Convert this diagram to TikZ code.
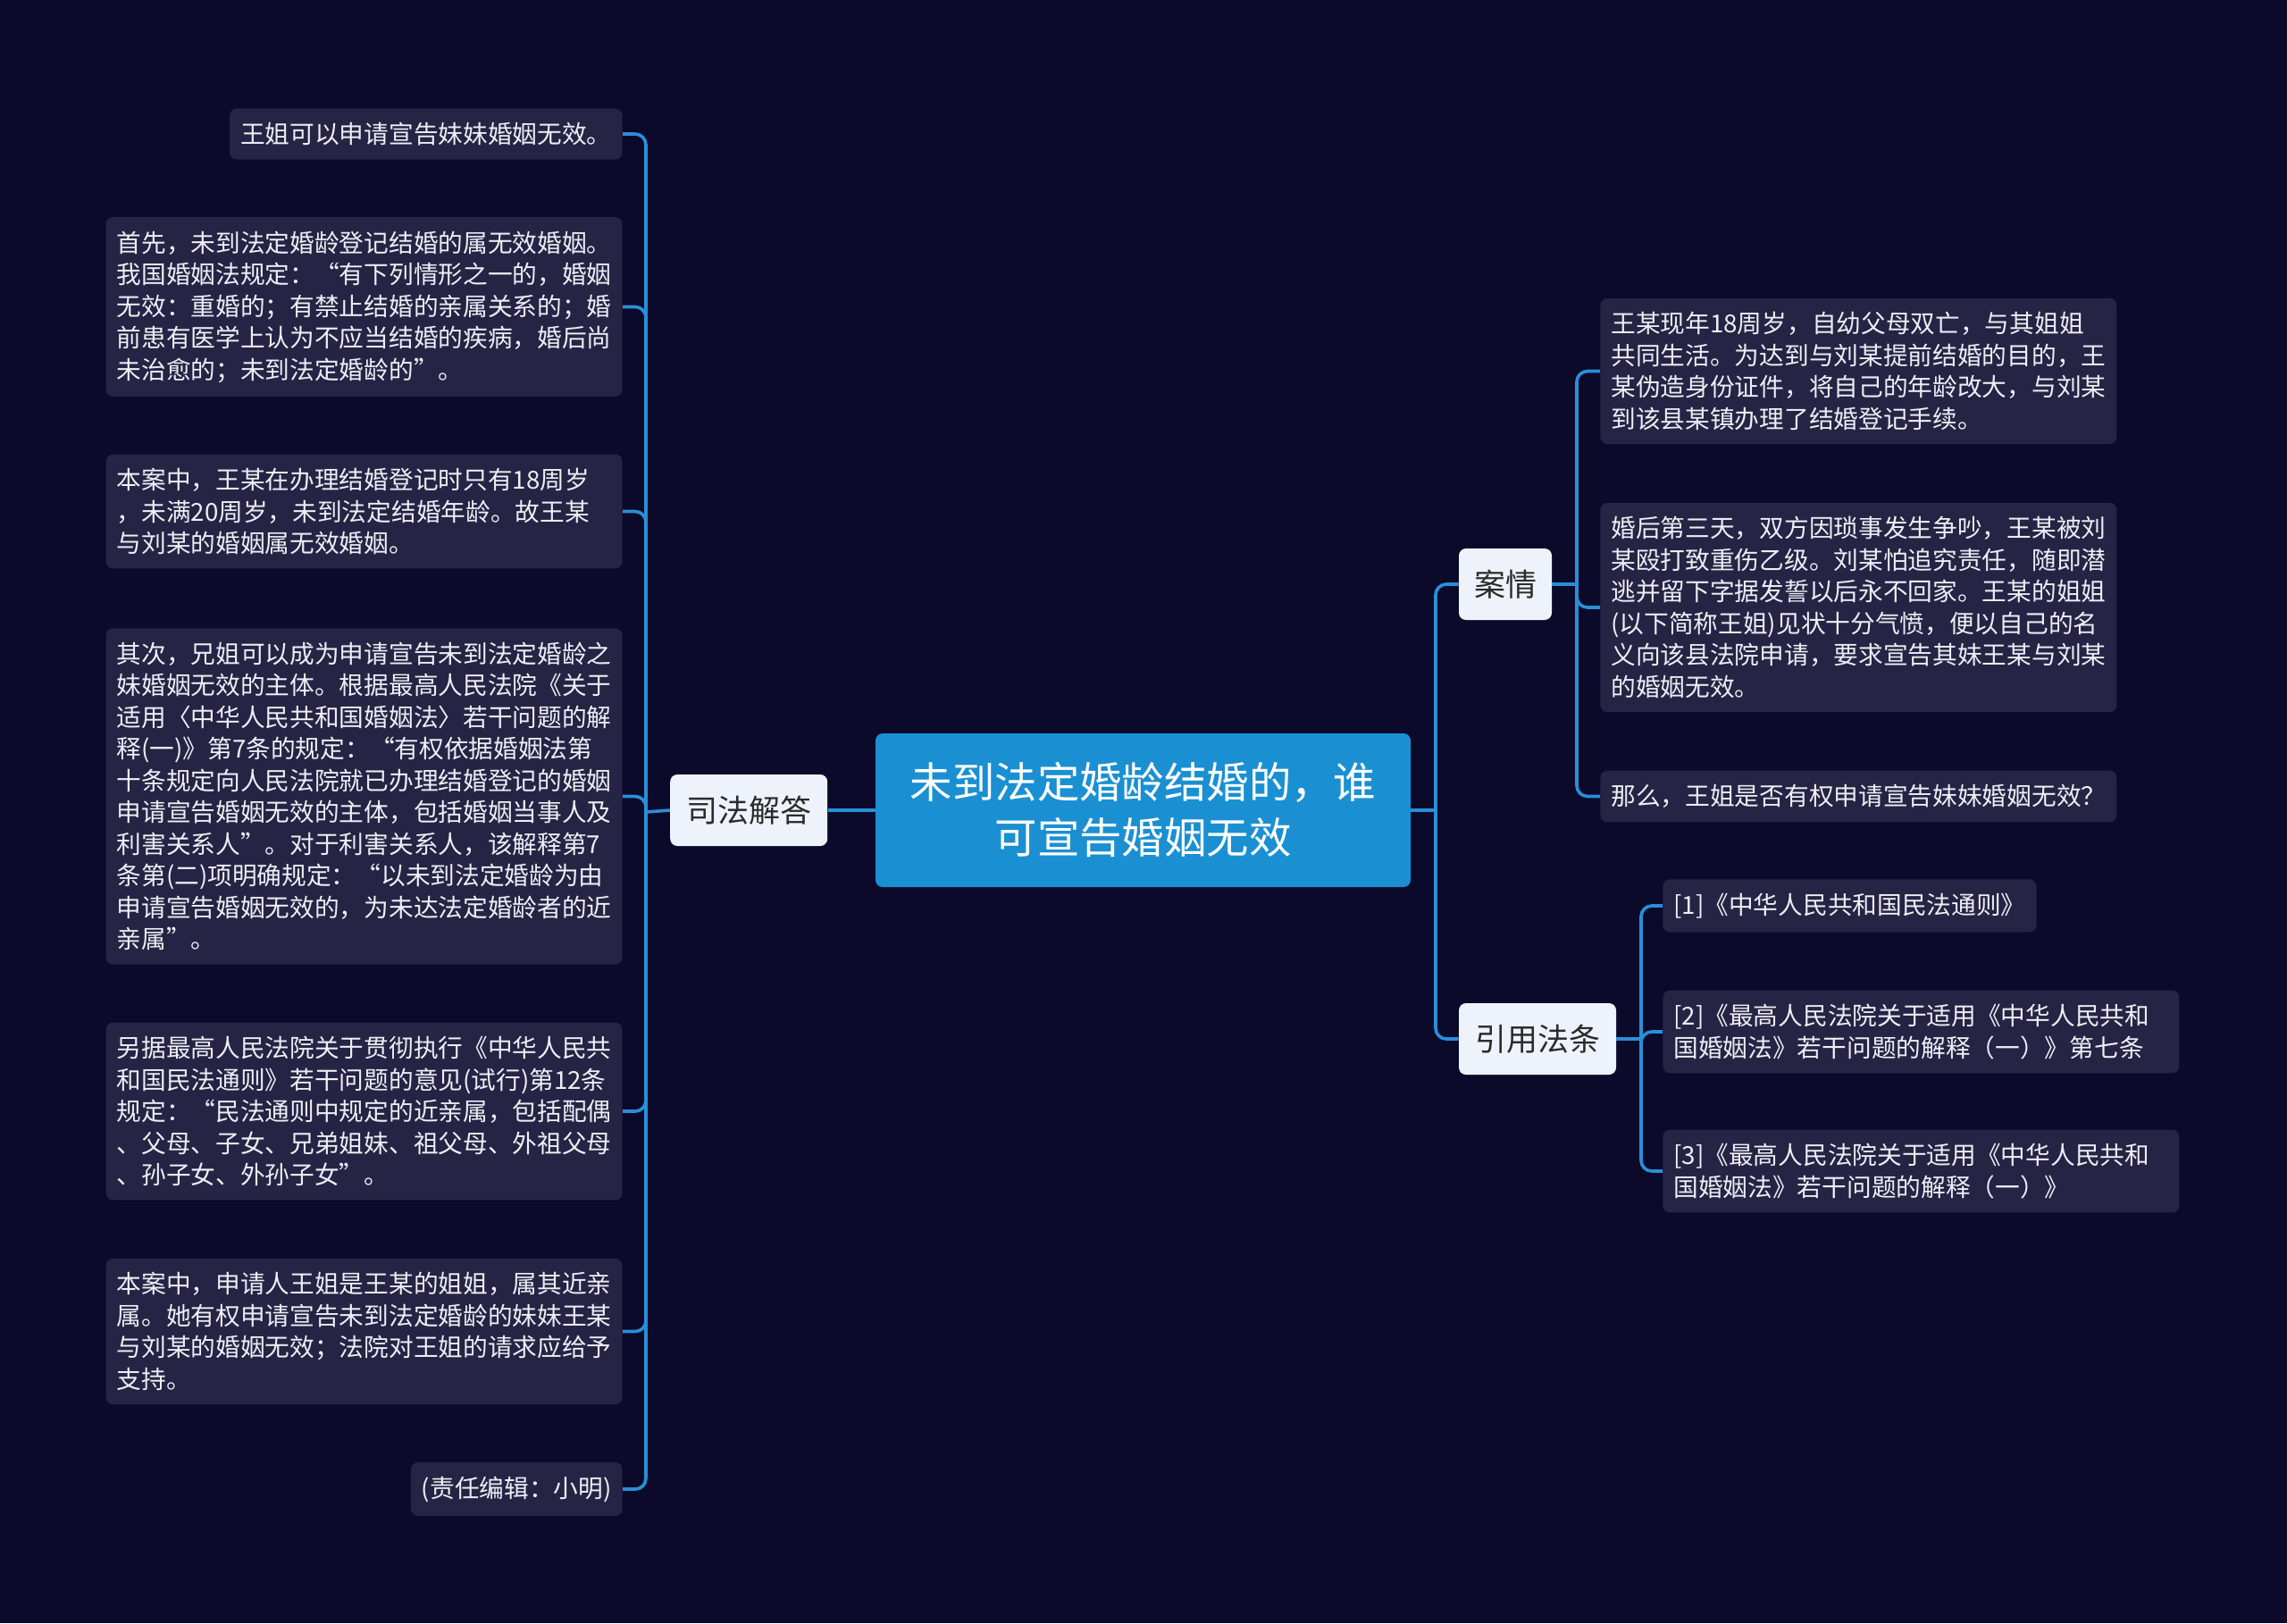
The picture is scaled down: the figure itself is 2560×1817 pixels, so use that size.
\documentclass[tikz,border=0pt]{standalone}
\usepackage{fontspec}
\setmainfont{Noto Sans CJK SC}
\usepackage{tikz}
\usetikzlibrary{positioning}
\usepackage{xcolor}
\definecolor{mapbg}{HTML}{0B0A2B}
\definecolor{leaffill}{HTML}{262444}
\definecolor{leaftext}{HTML}{EEEEF6}
\definecolor{rootblue}{HTML}{1A90D2}
\definecolor{topicfill}{HTML}{EEF3FB}
\definecolor{topictext}{HTML}{2B2B2B}
\definecolor{linkblue}{HTML}{2A8FD6}

\begin{document}
\begin{tikzpicture}[
  x=0.5pt, y=-0.5pt,
  leaf/.style={fill=leaffill, text=leaftext, rounded corners=4pt,
    inner xsep=6pt, inner ysep=7.8pt, align=left,
    font=\fontsize{13.85}{17.75}\selectfont},
  wideleaf/.style={leaf, text width=277pt},
  topic/.style={fill=topicfill, text=topictext, rounded corners=4pt,
    minimum height=40pt, inner xsep=6pt, font=\fontsize{17.5}{21}\selectfont},
  root/.style={fill=rootblue, text=white, rounded corners=4pt,
    minimum width=299.5pt, minimum height=86pt, text width=262pt, align=center,
    font=\fontsize{23.7}{31}\selectfont},
  branch/.style={draw=linkblue, line width=1.8pt, rounded corners=6pt}
]
  \fill[mapbg] (0,0) rectangle (2560,1817);
  \useasboundingbox (0,0) rectangle (2560,1817);

  % root and first level
  \node[root] (main) at (1279.5,907) {未到法定婚龄结婚的，谁\\可宣告婚姻无效};
  \node[topic, minimum width=88pt, left=26.5pt of main] (sifa) {司法解答};
  \node[topic, minimum width=52pt] (anqing) at (1685,654) {案情};
  \node[topic, minimum width=88pt] (yinyong) at (1721,1163) {引用法条};

  % left: judicial answer
  \node[leaf, anchor=east] (s1) at (697,150) {王姐可以申请宣告妹妹婚姻无效。};
  \node[wideleaf, anchor=east] (s2) at (697,343.5) {首先，未到法定婚龄登记结婚的属无效婚姻。\\我国婚姻法规定：“有下列情形之一的，婚姻\\无效：重婚的；有禁止结婚的亲属关系的；婚\\前患有医学上认为不应当结婚的疾病，婚后尚\\未治愈的；未到法定婚龄的”。};
  \node[wideleaf, anchor=east] (s3) at (697,572.5) {本案中，王某在办理结婚登记时只有18周岁\\，未满20周岁，未到法定结婚年龄。故王某\\与刘某的婚姻属无效婚姻。};
  \node[wideleaf, anchor=east] (s4) at (697,891.5) {其次，兄姐可以成为申请宣告未到法定婚龄之\\妹婚姻无效的主体。根据最高人民法院《关于\\适用〈中华人民共和国婚姻法〉若干问题的解\\释(一)》第7条的规定：“有权依据婚姻法第\\十条规定向人民法院就已办理结婚登记的婚姻\\申请宣告婚姻无效的主体，包括婚姻当事人及\\利害关系人”。对于利害关系人，该解释第7\\条第(二)项明确规定：“以未到法定婚龄为由\\申请宣告婚姻无效的，为未达法定婚龄者的近\\亲属”。};
  \node[wideleaf, anchor=east] (s5) at (697,1244) {另据最高人民法院关于贯彻执行《中华人民共\\和国民法通则》若干问题的意见(试行)第12条\\规定：“民法通则中规定的近亲属，包括配偶\\、父母、子女、兄弟姐妹、祖父母、外祖父母\\、孙子女、外孙子女”。};
  \node[wideleaf, anchor=east] (s6) at (697,1490.5) {本案中，申请人王姐是王某的姐姐，属其近亲\\属。她有权申请宣告未到法定婚龄的妹妹王某\\与刘某的婚姻无效；法院对王姐的请求应给予\\支持。};
  \node[leaf, anchor=east] (s7) at (697,1667) {(责任编辑：小明)};

  % right: case facts
  \node[wideleaf, anchor=west] (a1) at (1791,415.5) {王某现年18周岁，自幼父母双亡，与其姐姐\\共同生活。为达到与刘某提前结婚的目的，王\\某伪造身份证件，将自己的年龄改大，与刘某\\到该县某镇办理了结婚登记手续。};
  \node[wideleaf, anchor=west] (a2) at (1791,680) {婚后第三天，双方因琐事发生争吵，王某被刘\\某殴打致重伤乙级。刘某怕追究责任，随即潜\\逃并留下字据发誓以后永不回家。王某的姐姐\\(以下简称王姐)见状十分气愤，便以自己的名\\义向该县法院申请，要求宣告其妹王某与刘某\\的婚姻无效。};
  \node[wideleaf, anchor=west] (a3) at (1791,891.5) {那么，王姐是否有权申请宣告妹妹婚姻无效？};

  % right: cited laws
  \node[leaf, anchor=west] (y1) at (1861,1014) {[1]《中华人民共和国民法通则》};
  \node[wideleaf, anchor=west] (y2) at (1861,1155) {[2]《最高人民法院关于适用《中华人民共和\\国婚姻法》若干问题的解释（一）》第七条};
  \node[wideleaf, anchor=west] (y3) at (1861,1311) {[3]《最高人民法院关于适用《中华人民共和\\国婚姻法》若干问题的解释（一）》};

  % connectors
  \coordinate (rbus) at (1607,907);
  \coordinate (sbus) at (723,909);
  \coordinate (abus) at (1765,654);
  \coordinate (ybus) at (1837,1163);
  \draw[branch] (main.west) -- (sifa.east);
  \draw[branch] (main.east) -- (rbus);
  \draw[branch] (rbus) |- (anqing.west);
  \draw[branch] (rbus) |- (yinyong.west);
  \draw[branch] (sifa.west) -- (sbus);
  \foreach \n in {s1,s2,s3,s4,s5,s6,s7}
    \draw[branch] (sbus) |- (\n.east);
  \draw[branch] (anqing.east) -- (abus);
  \foreach \n in {a1,a2,a3}
    \draw[branch] (abus) |- (\n.west);
  \draw[branch] (yinyong.east) -- (ybus);
  \foreach \n in {y1,y2,y3}
    \draw[branch] (ybus) |- (\n.west);
\end{tikzpicture}
\end{document}
